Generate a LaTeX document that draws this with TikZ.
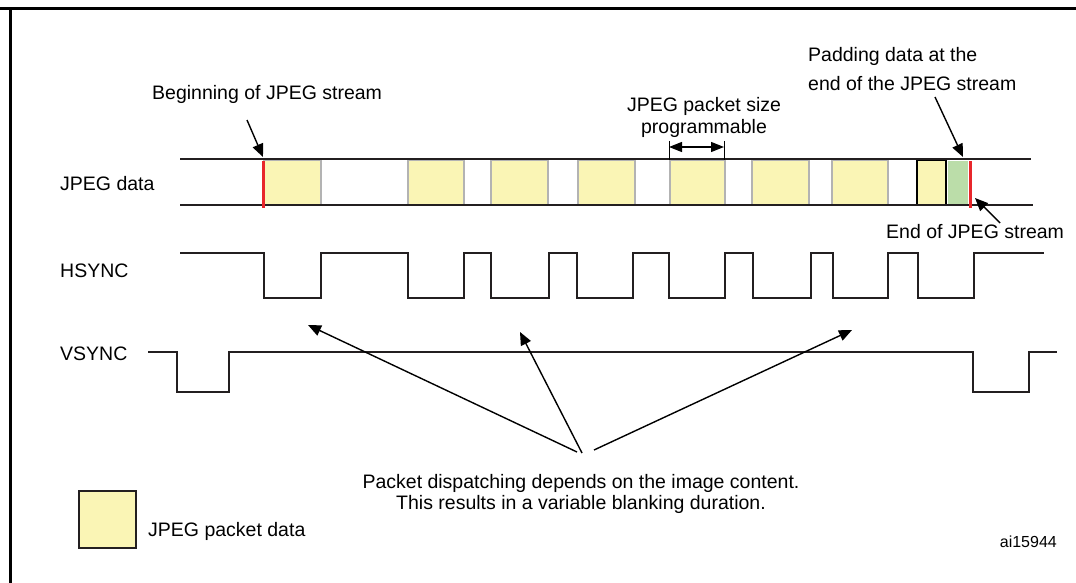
\documentclass[tikz,border=0pt]{standalone}
\usepackage{fontspec}
\setmainfont{Liberation Sans}
\usepackage{xcolor}
\usepackage{tikz}
\usetikzlibrary{arrows.meta, positioning}
\definecolor{pktyellow}{HTML}{FAF5B5}
\definecolor{padgreen}{HTML}{BBDDA9}
\definecolor{strred}{HTML}{E8262B}
\definecolor{sigline}{HTML}{231F20}
\definecolor{pktedge}{HTML}{B3B3B3}
\tikzstyle{arrow} = [line width=1.4pt,-{Triangle[length=13pt,width=11pt]}]
\tikzset{every node/.style={align=left}}

\begin{document}
\begin{tikzpicture}[x=1pt,y=-1pt,
    wave/.style={line width=2.7pt,draw=sigline,line join=miter},
    bus/.style={line width=2.7pt,draw=sigline},
    pkt/.style={draw=pktedge,line width=1.5pt,fill=pktyellow},
    lbl/.style={font=\fontsize{19.5}{23}\selectfont,inner sep=0pt},
    tick/.style={line width=1pt,draw=black}
]
  \useasboundingbox (0,0) rectangle (1076,583);
  \draw[line width=3pt] (0,9) -- (1076,9);
  \draw[line width=3pt] (10,9) -- (10,583);

  \node[lbl,anchor=base west] (beg)    at (152,100) {Beginning of JPEG stream};
  \node[lbl,anchor=base west] (padA)   at (808,62)  {Padding data at the};
  \node[lbl,anchor=base west] (padB)   at (808,91)  {end of the JPEG stream};
  \node[lbl,anchor=base]      (sizeA)  at (704,112) {JPEG packet size};
  \node[lbl,anchor=base]      (sizeB)  at (704,134) {programmable};
  \node[lbl,anchor=base west] (endtxt) at (886,238) {End of JPEG stream};
  \node[lbl,anchor=base west] (jpeg)   at (60,190)  {JPEG data};
  \node[lbl,anchor=base west] (hsync)  at (60,277)  {HSYNC};
  \node[lbl,anchor=base west] (vsync)  at (60,360)  {VSYNC};
  \node[lbl,anchor=base]      (noteA)  at (581,488) {Packet dispatching depends on the image content.};
  \node[lbl,anchor=base]      (noteB)  at (581,509) {This results in a variable blanking duration.};
  \node[draw=sigline,line width=1.2pt,fill=pktyellow,minimum width=57pt,minimum height=57pt,inner sep=0pt]
        (legbox) at (107.5,519.5) {};
  \node[lbl,anchor=base west] (legtxt) at (148,536) {JPEG packet data};
  \node[font=\fontsize{16}{19}\selectfont,inner sep=0pt,anchor=base east] (ref) at (1057,547) {ai15944};

  \foreach \a/\b in {264/321,408/464,491/548,578/635,670/725,752/809,832/888}
      \draw[pkt] (\a,160) rectangle (\b,205);
  \draw[fill=pktyellow,line width=1.2pt] (917,160) rectangle (946,205);
  \fill[padgreen] (948,161) rectangle (968,204);
  \draw[bus] (180,159) -- (1031,159);
  \draw[bus] (180,205) -- (1033,205);
  \draw[strred,line width=3pt] (263,161) -- (263,208);
  \draw[strred,line width=3pt] (970,161) -- (970,208);

  \draw[wave] (180,253) \foreach \a/\b in {264/321,408/464,491/549,577/633,669/725,753/811,833/888,918/974}
      { -- (\a,253) -- (\a,298) -- (\b,298) -- (\b,253) } -- (1044,253);
  \draw[wave] (148,352) -- (177,352) -- (177,392) -- (229,392) -- (229,352)
      -- (973,352) -- (973,392) -- (1029,392) -- (1029,352) -- (1057,352);

  \coordinate (begtail) at (247,120);  \coordinate (begtip) at (263,157);
  \coordinate (padtail) at (935,97);   \coordinate (padtip) at (963,157);
  \coordinate (endtail) at (1000,223); \coordinate (endtip) at (975,198);
  \draw[arrow] (begtail) -- (begtip);
  \draw[arrow] (padtail) -- (padtip);
  \draw[arrow] (endtail) -- (endtip);

  \coordinate (sizeL) at (669,147); \coordinate (sizeR) at (724,147);
  \draw[tick] (669,141) -- (669,160);
  \draw[tick] (724,141) -- (724,160);
  \draw[line width=1.4pt,{Triangle[length=13pt,width=10pt]}-{Triangle[length=13pt,width=10pt]}] (sizeL) -- (sizeR);

  \coordinate (fanL) at (577,452); \coordinate (blankL) at (308,325);
  \coordinate (fanM) at (582,453); \coordinate (blankM) at (520,332);
  \coordinate (fanR) at (594,450); \coordinate (blankR) at (852,330);
  \foreach \s/\t in {fanL/blankL,fanM/blankM,fanR/blankR}
      \draw[arrow] (\s) -- (\t);
\end{tikzpicture}
\end{document}
